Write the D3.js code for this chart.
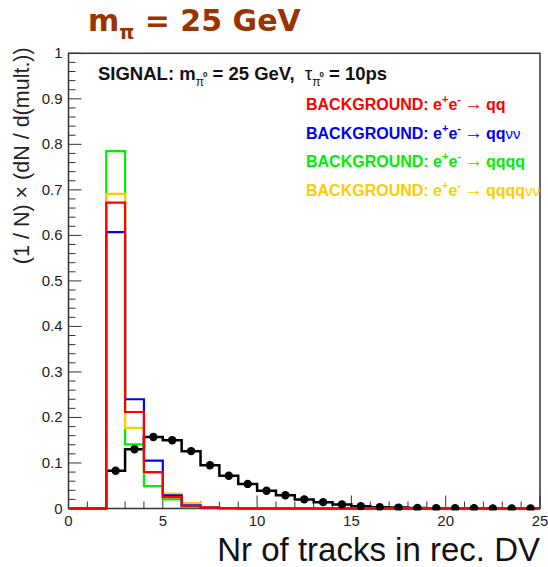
<!DOCTYPE html>
<html><head><meta charset="utf-8">
<script src="https://cdn.jsdelivr.net/npm/d3@7/dist/d3.min.js"></script>
<style>body{margin:0;background:#fff;} svg{display:block;}</style>
</head><body>
<svg id="c" width="548" height="567"></svg>
<script>
const binEdges = d3.range(0, 26); // 25 bins of width 1 from 0 to 25
const signal = [0,0,0.083,0.130,0.157,0.150,0.126,0.095,0.072,0.054,0.039,0.029,0.020,0.014,0.009,0.005,0.003,0.002,0.001,0.0008,0.0005,0.0004,0.0003,0.0002,0.0002];
const bgQQ    = [0,0,0.672,0.212,0.080,0.025,0.006,0.002,0.0005,0.0002,0,0,0,0,0,0,0,0,0,0,0,0,0,0,0];
const bgQQNN  = [0,0,0.607,0.240,0.105,0.029,0.007,0.002,0.0005,0,0,0,0,0,0,0,0,0,0,0,0,0,0,0,0];
const bgQQQQ  = [0,0,0.785,0.141,0.049,0.020,0.003,0.001,0,0,0,0,0,0,0,0,0,0,0,0,0,0,0,0,0];
const bgQQQQNN= [0,0,0.691,0.177,0.079,0.033,0.012,0.003,0.001,0,0,0,0,0,0,0,0,0,0,0,0,0,0,0,0];
const xTicks = [0,5,10,15,20,25];
const yTicks = [0,0.1,0.2,0.3,0.4,0.5,0.6,0.7,0.8,0.9,1];

const svg = d3.select("#c");
const L = 68.5, R = 540, T = 53.3, B = 508.5;
const x = d3.scaleLinear().domain([0,25]).range([L,R]);
const y = d3.scaleLinear().domain([0,1]).range([B,T]);

// title
const title = svg.append("text").attr("x",88).attr("y",31)
  .attr("font-family","DejaVu Sans").attr("font-weight","bold").attr("font-size",30).attr("fill","#993300");
title.append("tspan").text("m");
title.append("tspan").attr("dy",8).attr("font-size",19).text("π");
title.append("tspan").attr("dy",-8).text(" = 25 GeV");

// frame
svg.append("rect").attr("x",L).attr("y",T).attr("width",R-L).attr("height",B-T)
  .attr("fill","none").attr("stroke","#333").attr("stroke-width",1.5);

// axes with inward ticks
const gx = svg.append("g").attr("transform",`translate(0,${B})`);
d3.range(0,26,1).forEach(v=>{
  const major = v%5===0;
  gx.append("line").attr("x1",x(v)).attr("x2",x(v)).attr("y1",0).attr("y2",major?-13:-7).attr("stroke","#333").attr("stroke-width",1);
});
gx.selectAll("text.xt").data(xTicks).join("text").attr("class","xt")
  .attr("x",d=>x(d)).attr("y",17).attr("text-anchor","middle")
  .attr("font-family","Liberation Sans, Arial").attr("font-size",15).attr("fill","#222").text(d=>d);

const gy = svg.append("g").attr("transform",`translate(${L},0)`);
d3.range(0,51).forEach(i=>{
  const v=i*0.02; const major = i%5===0;
  gy.append("line").attr("x1",0).attr("x2",major?13:7).attr("y1",y(v)).attr("y2",y(v)).attr("stroke","#333").attr("stroke-width",1);
});
gy.selectAll("text.yt").data(yTicks).join("text").attr("class","yt")
  .attr("x",-6).attr("y",d=>y(d)+5).attr("text-anchor","end")
  .attr("font-family","Liberation Sans, Arial").attr("font-size",15).attr("fill","#222").text(d=>d3.format("~g")(d));

// axis titles
svg.append("text").attr("transform",`translate(29,${T-6}) rotate(-90)`).attr("text-anchor","end")
  .attr("font-family","Liberation Sans, Arial").attr("font-size",21.5).attr("fill","#222")
  .text("(1 / N) × (dN / d(mult.))");
svg.append("text").attr("x",R).attr("y",561).attr("text-anchor","end")
  .attr("font-family","Liberation Sans, Arial").attr("font-size",33).attr("fill","#111")
  .text("Nr of tracks in rec. DV");

// histogram step paths
function stepPath(vals){
  const pts=[[x(0),y(0)]];
  vals.forEach((v,i)=>{ pts.push([x(binEdges[i]),y(v)]); pts.push([x(binEdges[i+1]),y(v)]); });
  pts.push([x(25),y(0)]);
  return d3.line()(pts);
}
svg.append("clipPath").attr("id","pc").append("rect").attr("x",L).attr("y",T).attr("width",R-L).attr("height",B-T+2);
const gp = svg.append("g").attr("clip-path","url(#pc)");
gp.append("path").attr("d",stepPath(signal)).attr("fill","none").attr("stroke","#000").attr("stroke-width",2.5);
const bgs = [[bgQQQQ,"#00ee00"],[bgQQQQNN,"#ffcc00"],[bgQQNN,"#0000ff"],[bgQQ,"#ff0000"]];
bgs.forEach(([vals,c])=>{
  gp.append("path").attr("d",stepPath(vals)).attr("fill","none").attr("stroke",c).attr("stroke-width",2.2);
});
gp.selectAll("circle").data(signal.map((v,i)=>[i+0.5,v]).filter(d=>d[1]>0)).join("circle")
  .attr("cx",d=>x(d[0])).attr("cy",d=>y(d[1])).attr("r",4.2).attr("fill","#000");

// signal label
const sl = svg.append("text").attr("x",98).attr("y",80)
  .attr("font-family","Liberation Sans, Arial").attr("font-weight","bold").attr("font-size",18.5).attr("fill","#111");
sl.append("tspan").text("SIGNAL: m");
sl.append("tspan").attr("dy",6).attr("font-size",12).attr("font-weight","normal").text("π");
sl.append("tspan").attr("dy",-9).attr("dx",-1).attr("font-size",8).text("0");
sl.append("tspan").attr("dy",3).text(" = 25 GeV,");
sl.append("tspan").attr("dx",10).attr("font-weight","normal").attr("font-size",19).text("τ");
sl.append("tspan").attr("dy",6).attr("font-size",12).attr("font-weight","normal").text("π");
sl.append("tspan").attr("dy",-9).attr("dx",-1).attr("font-size",8).text("0");
sl.append("tspan").attr("dy",3).text(" = 10ps");

// legend
const legend = [
  {c:"#ff0000", proc:"qq", nn:""},
  {c:"#0000ff", proc:"qq", nn:"νν"},
  {c:"#00ee00", proc:"qqqq", nn:""},
  {c:"#ffcc00", proc:"qqqq", nn:"νν"}
];
legend.forEach((d,i)=>{
  const t = svg.append("text").attr("x",306).attr("y",110+i*28.6)
    .attr("font-family","Liberation Sans, Arial").attr("font-weight","bold").attr("font-size",16).attr("fill",d.c);
  t.append("tspan").text("BACKGROUND: e");
  t.append("tspan").attr("dy",-7).attr("font-size",11).text("+");
  t.append("tspan").attr("dy",7).text("e");
  t.append("tspan").attr("dy",-7).attr("font-size",11).text("-");
  t.append("tspan").attr("dy",7).attr("dx",3).attr("font-weight","normal").attr("font-size",19).text("→");
  t.append("tspan").attr("dx",3).text(d.proc);
  if(d.nn) t.append("tspan").attr("font-weight","normal").attr("font-size",15).text("νν");
});
</script>
</body></html>
